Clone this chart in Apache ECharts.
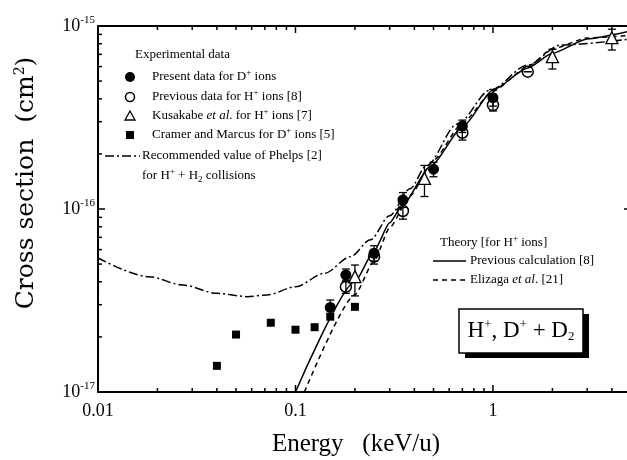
<!DOCTYPE html>
<html>
<head>
<meta charset="utf-8">
<script src="https://cdn.jsdelivr.net/npm/echarts@6.0.0/dist/echarts.min.js"></script>
<style>
html,body{margin:0;padding:0;background:#fff}
#main{width:627px;height:460px}
</style>
</head>
<body>
<div id="main"></div>
<script>
const SERIF = '"Liberation Serif", "Times New Roman", serif'
const WIDE = '"DejaVu Serif", serif'

// axis ticks
const xMajor = [0.01, 0.1, 1]
const xMinor = [0.02, 0.03, 0.04, 0.05, 0.06, 0.07, 0.08, 0.09, 0.2, 0.3, 0.4, 0.5, 0.6, 0.7, 0.8, 0.9, 2, 3, 4]
const xTickLabels = ['0.01', '0.1', '1']
const yMajor = [1e-17, 1e-16, 1e-15]
const yMinor = [2e-17, 3e-17, 4e-17, 5e-17, 6e-17, 7e-17, 8e-17, 9e-17, 2e-16, 3e-16, 4e-16, 5e-16, 6e-16, 7e-16, 8e-16, 9e-16]
const yExponents = ['-17', '-16', '-15']

// present data, D+ ions (filled circles)
const presentE = [0.15, 0.18, 0.25, 0.35, 0.5, 0.7, 1.0]
const presentCS = [2.9e-17, 4.36e-17, 5.73e-17, 1.12e-16, 1.65e-16, 2.84e-16, 4.06e-16]
const presentLow = [2.65e-17, 4.0e-17, 5.2e-17, 1.02e-16, 1.5e-16, 2.62e-16, 3.65e-16]
const presentHigh = [3.18e-17, 4.7e-17, 6.3e-17, 1.23e-16, 1.8e-16, 3.06e-16, 4.5e-16]

// previous data, H+ ions (open circles)
const prevE = [0.18, 0.25, 0.35, 0.7, 1.0, 1.5]
const prevCS = [3.76e-17, 5.49e-17, 9.75e-17, 2.61e-16, 3.7e-16, 5.63e-16]
const prevLow = [3.46e-17, 5.0e-17, 8.8e-17, 2.38e-16, 3.43e-16, 5.63e-16]
const prevHigh = [4.08e-17, 6.0e-17, 1.08e-16, 2.85e-16, 4.0e-16, 5.63e-16]

// Kusakabe et al. (open triangles)
const kusE = [0.2, 0.45, 2.0, 4.0]
const kusCS = [4.27e-17, 1.47e-16, 6.8e-16, 8.63e-16]
const kusLow = [3.35e-17, 1.17e-16, 5.82e-16, 7.39e-16]
const kusHigh = [4.94e-17, 1.73e-16, 7.46e-16, 9.6e-16]

// Cramer and Marcus (filled squares)
const cramerE = [0.04, 0.05, 0.075, 0.1, 0.125, 0.15, 0.2]
const cramerCS = [1.39e-17, 2.06e-17, 2.39e-17, 2.19e-17, 2.26e-17, 2.58e-17, 2.92e-17]

// Phelps recommended (dash-dot)
const phelpsE = [0.01, 0.018, 0.027, 0.04, 0.057, 0.072, 0.1, 0.14, 0.19, 0.24, 0.3, 0.38, 0.46, 0.66, 0.97, 1.5, 2.2, 5]
const phelpsCS = [5.4e-17, 4.27e-17, 3.84e-17, 3.46e-17, 3.32e-17, 3.39e-17, 3.76e-17, 4.45e-17, 5.49e-17, 6.8e-17, 9.2e-17, 1.29e-16, 1.72e-16, 2.91e-16, 4.47e-16, 6.12e-16, 7.87e-16, 8.5e-16]

// theory: previous calculation (solid) and Elizaga et al. (dashed)
const calcE = [0.1, 0.2, 0.25, 0.3, 0.34, 0.48, 0.71, 1.0, 1.5, 2.0, 3.0, 5]
const calcCS = [1.0e-17, 4.0e-17, 5.9e-17, 8.4e-17, 1.01e-16, 1.7e-16, 2.85e-16, 4.47e-16, 5.9e-16, 7.1e-16, 8.5e-16, 9.4e-16]
const elizE = [0.111, 0.2, 0.25, 0.3, 0.38, 0.5, 0.7, 1.0, 1.5, 2.0, 3.0, 5]
const elizCS = [1.0e-17, 3.4e-17, 5.2e-17, 7.9e-17, 1.18e-16, 1.85e-16, 2.95e-16, 4.4e-16, 6.0e-16, 7.5e-16, 8.6e-16, 8.9e-16]

const pts = (E, V) => E.map((e, i) => [e, V[i]])
const errs = (E, lo, hi) => E.map((e, i) => [e, lo[i], hi[i]])

const main = document.getElementById('main')
const myChart = echarts.init(main)

function errorBar(params, api) {
  const x = api.value(0)
  const lo = api.coord([x, api.value(1)])
  const hi = api.coord([x, api.value(2)])
  const w = 4
  const style = {stroke: '#000', lineWidth: 1.3}
  return {type: 'group', children: [
    {type: 'line', shape: {x1: lo[0], y1: lo[1], x2: hi[0], y2: hi[1]}, style},
    {type: 'line', shape: {x1: lo[0] - w, y1: lo[1], x2: lo[0] + w, y2: lo[1]}, style},
    {type: 'line', shape: {x1: hi[0] - w, y1: hi[1], x2: hi[0] + w, y2: hi[1]}, style}
  ]}
}

function xTick(params, api) {
  const cs = params.coordSys
  const p = api.coord([api.value(0), 1e-16])
  const len = api.value(2)
  const s = {stroke: '#000', lineWidth: 1.5}
  const b = cs.y + cs.height
  return {type: 'group', children: [
    {type: 'line', shape: {x1: p[0], y1: b, x2: p[0], y2: b - len}, style: s},
    {type: 'line', shape: {x1: p[0], y1: cs.y, x2: p[0], y2: cs.y + len}, style: s}
  ]}
}

function yTick(params, api) {
  const cs = params.coordSys
  const p = api.coord([0.1, api.value(1)])
  const len = api.value(2)
  const s = {stroke: '#000', lineWidth: 1.5}
  const r = cs.x + cs.width
  return {type: 'group', children: [
    {type: 'line', shape: {x1: cs.x, y1: p[1], x2: cs.x + len, y2: p[1]}, style: s},
    {type: 'line', shape: {x1: r, y1: p[1], x2: r - len, y2: p[1]}, style: s}
  ]}
}

const xTickData = xMajor.map(v => [v, 1e-16, 7]).concat(xMinor.map(v => [v, 1e-16, 4]))
const yTickData = yMajor.map(v => [0.1, v, 7]).concat(yMinor.map(v => [0.1, v, 4]))

const rich = {
  s: {fontSize: 9, fontFamily: SERIF, padding: [0, 0, 8, 0]},
  d: {fontSize: 9, fontFamily: SERIF, padding: [7, 0, 0, 0]},
  i: {fontSize: 13, fontFamily: SERIF, fontStyle: 'italic'}
}
function txt(x, y, text, size) {
  return {type: 'text', x, y, style: {text, fontSize: size || 13, fontFamily: SERIF, fill: '#000',
    verticalAlign: 'middle', rich}}
}
const ls = {stroke: '#000', lineWidth: 1.5}

const axisLine = {show: true, lineStyle: {color: '#000', width: 2}}

myChart.setOption({
  animation: false,
  grid: {left: 98, top: 26, width: 533, height: 366, outerBoundsMode: 'none'},
  xAxis: [
    {type: 'log', logBase: 10, min: 0.01, max: 5, position: 'bottom',
      axisLine, axisTick: {show: false}, splitLine: {show: false}, showMaxLabel: false,
      axisLabel: {margin: 10, color: '#000', fontSize: 18, fontFamily: SERIF,
        formatter: v => {
          const e = Math.log10(v)
          if (Math.abs(e - Math.round(e)) > 1e-6) return ''
          return xTickLabels[Math.round(e) + 2] || ''
        }}},
    {type: 'log', logBase: 10, min: 0.01, max: 5, position: 'top',
      axisLine, axisTick: {show: false}, axisLabel: {show: false}, splitLine: {show: false}}
  ],
  yAxis: [
    {type: 'log', logBase: 10, min: 1e-17, max: 1e-15, position: 'left',
      axisLine, axisTick: {show: false}, splitLine: {show: false},
      axisLabel: {margin: 3, color: '#000', fontSize: 18, fontFamily: SERIF,
        formatter: v => '{b|10}{s|' + yExponents[Math.round(Math.log10(v)) + 17] + '}',
        rich: {b: {fontSize: 18, fontFamily: SERIF}, s: {fontSize: 11, fontFamily: SERIF, padding: [0, 0, 12, 0]}}}},
    {type: 'log', logBase: 10, min: 1e-17, max: 1e-15, position: 'right',
      axisLine, axisTick: {show: false}, axisLabel: {show: false}, splitLine: {show: false}}
  ],
  series: [
    {type: 'custom', renderItem: xTick, data: xTickData, encode: {x: 0, y: 1}, silent: true, clip: false, z: 5},
    {type: 'custom', renderItem: yTick, data: yTickData, encode: {x: 0, y: 1}, silent: true, clip: false, z: 5},
    {name: 'Phelps', type: 'line', data: pts(phelpsE, phelpsCS), showSymbol: false, symbol: 'none',
      smooth: 0.3, smoothMonotone: 'x', lineStyle: {color: '#000', width: 1.5, type: [9, 3, 2, 3]}},
    {name: 'Previous calculation', type: 'line', data: pts(calcE, calcCS), symbol: 'none',
      smooth: 0.2, smoothMonotone: 'x', lineStyle: {color: '#000', width: 1.5}},
    {name: 'Elizaga', type: 'line', data: pts(elizE, elizCS), symbol: 'none',
      smooth: 0.2, smoothMonotone: 'x', lineStyle: {color: '#000', width: 1.5, type: [5, 4]}},
    {type: 'custom', renderItem: errorBar, data: errs(prevE, prevLow, prevHigh), encode: {x: 0, y: [1, 2]}, z: 6},
    {type: 'custom', renderItem: errorBar, data: errs(kusE, kusLow, kusHigh), encode: {x: 0, y: [1, 2]}, z: 6},
    {type: 'custom', renderItem: errorBar, data: errs(presentE, presentLow, presentHigh), encode: {x: 0, y: [1, 2]}, z: 6},
    {name: 'Cramer', type: 'scatter', data: pts(cramerE, cramerCS), symbol: 'rect', symbolSize: 8,
      itemStyle: {color: '#000', opacity: 1}, z: 7},
    {name: 'Previous data', type: 'scatter', data: pts(prevE, prevCS), symbol: 'circle', symbolSize: 11,
      itemStyle: {color: 'rgba(255,255,255,0)', borderColor: '#000', borderWidth: 1.5, opacity: 1}, z: 7},
    {name: 'Kusakabe', type: 'scatter', data: pts(kusE, kusCS), symbol: 'triangle', symbolSize: 12,
      itemStyle: {color: '#fff', borderColor: '#000', borderWidth: 1.3, opacity: 1}, z: 7},
    {name: 'Present data', type: 'scatter', data: pts(presentE, presentCS), symbol: 'circle', symbolSize: 11,
      itemStyle: {color: '#000', opacity: 1}, z: 8}
  ],
  graphic: [
    // axis titles
    {type: 'text', x: 26, y: 183, rotation: Math.PI / 2,
      style: {text: 'Cross section  (cm{s|2})', fontSize: 25, fontFamily: WIDE, fill: '#000',
        align: 'center', verticalAlign: 'middle',
        rich: {s: {fontSize: 14, fontFamily: WIDE, padding: [0, 0, 12, 0]}}}},
    {type: 'text', x: 356, y: 444,
      style: {text: 'Energy   (keV/u)', fontSize: 25, fontFamily: SERIF, fill: '#000',
        align: 'center', verticalAlign: 'middle'}},
    // experimental legend
    txt(135, 55, 'Experimental data'),
    {type: 'circle', shape: {cx: 130, cy: 77, r: 5}, style: {fill: '#000'}},
    txt(152, 77, 'Present data for D{s|+} ions'),
    {type: 'circle', shape: {cx: 130, cy: 97, r: 4.5}, style: {fill: '#fff', stroke: '#000', lineWidth: 1.5}},
    txt(152, 97, 'Previous data for H{s|+} ions [8]'),
    {type: 'polygon', shape: {points: [[130, 111], [135, 120], [125, 120]]}, style: {fill: '#fff', stroke: '#000', lineWidth: 1.3}},
    txt(152, 116, 'Kusakabe {i|et al}. for H{s|+} ions [7]'),
    {type: 'rect', shape: {x: 126, y: 131, width: 8, height: 8}, style: {fill: '#000'}},
    txt(152, 135, 'Cramer and Marcus for D{s|+} ions [5]'),
    {type: 'line', shape: {x1: 105, y1: 156, x2: 140, y2: 156}, style: {stroke: '#000', lineWidth: 1.5, lineDash: [9, 3, 2, 3]}},
    txt(142, 156, 'Recommended value of Phelps [2]'),
    txt(142, 176, 'for H{s|+} + H{d|2} collisions'),
    // theory legend
    txt(440, 243, 'Theory [for H{s|+} ions]'),
    {type: 'line', shape: {x1: 433, y1: 261, x2: 466, y2: 261}, style: ls},
    txt(470, 261, 'Previous calculation [8]'),
    {type: 'line', shape: {x1: 433, y1: 280, x2: 466, y2: 280}, style: {stroke: '#000', lineWidth: 1.5, lineDash: [5, 4]}},
    txt(470, 280, 'Elizaga {i|et al}. [21]'),
    // system box
    {type: 'rect', shape: {x: 465, y: 314, width: 124, height: 44}, style: {fill: '#000'}},
    {type: 'rect', shape: {x: 459, y: 309, width: 124, height: 44}, style: {fill: '#fff', stroke: '#000', lineWidth: 1.5}},
    {type: 'text', x: 521, y: 331,
      style: {text: 'H{s|+}, D{s|+} + D{d|2}', fontSize: 23, fontFamily: SERIF, fill: '#000',
        align: 'center', verticalAlign: 'middle',
        rich: {s: {fontSize: 13, fontFamily: SERIF, padding: [0, 0, 12, 0]},
          d: {fontSize: 13, fontFamily: SERIF, padding: [12, 0, 0, 0]}}}}
  ]
})
</script>
</body>
</html>
